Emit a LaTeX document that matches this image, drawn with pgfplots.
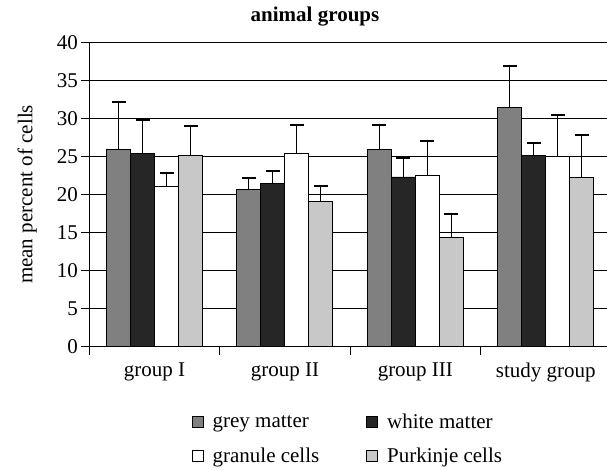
\documentclass[border=0pt]{standalone}
\usepackage{fontspec}
\setmainfont{Liberation Serif}
\usepackage{pgfplots}
\pgfplotsset{compat=1.18}
\definecolor{cgrey}{HTML}{808080}
\definecolor{cdark}{HTML}{262626}
\definecolor{clight}{HTML}{C8C8C8}
\newcommand{\F}{\fontsize{21}{25}\selectfont}
\begin{document}
\begin{tikzpicture}
\path[use as bounding box] (0,0) rectangle (607pt,470pt);
\begin{axis}[
  at={(89.3pt,123.3pt)}, anchor=south west,
  scale only axis, width=521.7pt, height=304.4pt,
  ybar=0pt, bar width=24pt,
  xmin=-0.5, xmax=3.5, ymin=0, ymax=40,
  enlarge x limits=false,
  axis x line*=bottom, axis y line*=left,
  axis line style={line width=1pt, -},
  ytick={0,5,...,40},
  xtick={0,1,2,3},
  xticklabels={group I, group II, group III, study group},
  minor xtick={-0.5,0.5,1.5,2.5,3.5},
  tick align=outside,
  major tick length=8pt, minor tick length=8pt,
  major x tick style={draw=none},
  tick style={line width=1pt, black},
  ymajorgrids, grid style={black, line width=0.9pt},
  /pgf/number format/assume math mode=true,
  tick label style={font=\F},
  xticklabel style={yshift=-5pt},
  title={animal groups},
  title style={font=\F\bfseries, at={(axis description cs:0.4326,1)}, anchor=base, yshift=15pt},
  ylabel={mean percent of cells},
  every axis y label/.style={at={(axis description cs:-0.119,0.5)}, rotate=90, anchor=center, font=\F},
  legend columns=2,
  legend cell align=left,
  legend style={font=\F, draw=none, fill=none, at={(axis description cs:0.196,-0.214)}, anchor=north west,
    inner sep=0pt, row sep=14pt,
    /tikz/every even column/.append style={column sep=45pt}},
  legend image code/.code={\draw[#1, draw=black, line width=0.8pt] (0pt,-5pt) rectangle (11pt,5.5pt); \path (18pt,0pt);},
  error bars/y dir=plus, error bars/y explicit,
  error bars/error mark options={rotate=90, line width=2pt, mark size=7pt, black},
  error bars/error bar style={line width=1pt, black},
]
\addplot[fill=cgrey, draw=black, line width=0.9pt] coordinates {(0,25.9) +- (0,6.2) (1,20.6) +- (0,1.6) (2,25.9) +- (0,3.2) (3,31.4) +- (0,5.5)};
\addplot[fill=cdark, draw=black, line width=0.9pt] coordinates {(0,25.35) +- (0,4.45) (1,21.45) +- (0,1.65) (2,22.3) +- (0,2.5) (3,25.1) +- (0,1.65)};
\addplot[fill=white, draw=black, line width=0.9pt] coordinates {(0,21.1) +- (0,1.7) (1,25.35) +- (0,3.75) (2,22.5) +- (0,4.5) (3,25.0) +- (0,5.4)};
\addplot[fill=clight, draw=black, line width=0.9pt] coordinates {(0,25.1) +- (0,3.9) (1,19.1) +- (0,2.0) (2,14.4) +- (0,3.0) (3,22.2) +- (0,5.6)};
\legend{grey matter, white matter, granule cells, Purkinje cells}
\end{axis}
\end{tikzpicture}
\end{document}
